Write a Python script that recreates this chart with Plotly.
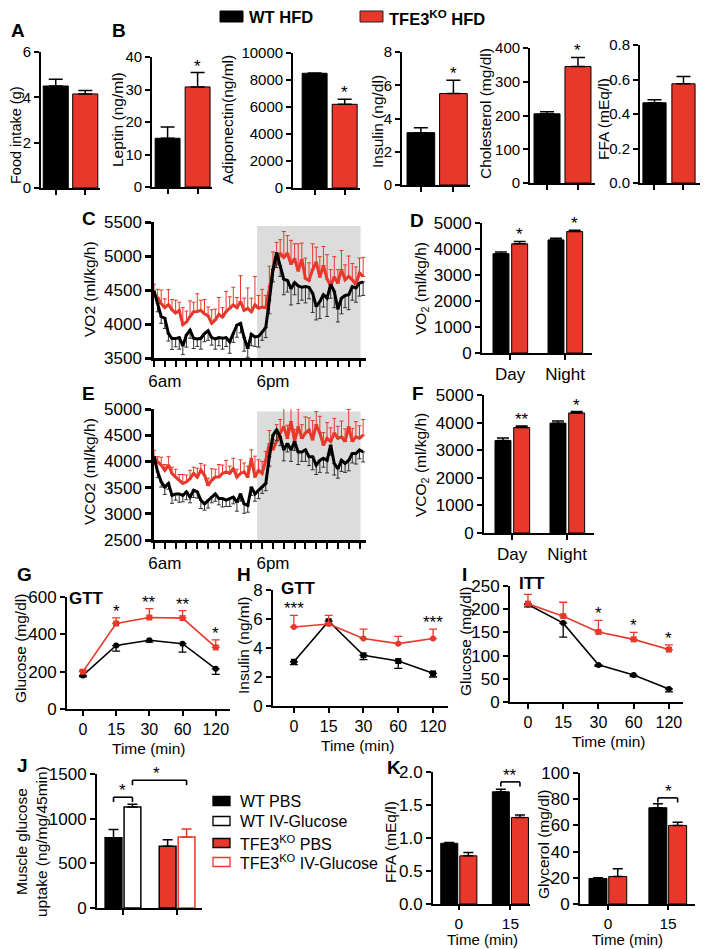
import plotly.graph_objects as go

# the page body keeps an 8px margin: figure is shifted by (8, 8) in the window
OX, OY = 8, 8
W, H = 701, 941
BLACK = "#000000"
RED = "#E8382B"
GREY = "#DCDCDC"
FONT = "Liberation Sans, Arial, Helvetica, sans-serif"

# ---------------- data ----------------
genotypes = ["WT HFD", "TFE3<sup>KO</sup> HFD"]
food_intake = [4.5, 4.15]
food_intake_err = [0.3, 0.15]
leptin = [15.0, 30.8]
leptin_err = [3.5, 4.4]
adiponectin = [8500, 6200]
adiponectin_err = [20, 380]
insulin_fed = [3.15, 5.5]
insulin_fed_err = [0.3, 0.8]
cholesterol = [205, 345]
cholesterol_err = [6, 27]
ffa_fed = [0.465, 0.575]
ffa_fed_err = [0.018, 0.042]

periods = ["Day", "Night"]
vo2_wt_bar = [3820, 4350]
vo2_wt_bar_err = [60, 60]
vo2_ko_bar = [4200, 4670]
vo2_ko_bar_err = [90, 50]
vco2_wt_bar = [3350, 3980]
vco2_wt_bar_err = [90, 80]
vco2_ko_bar = [3820, 4350]
vco2_ko_bar_err = [60, 50]

# indirect calorimetry time course (time bins)
vo2_wt = [4485, 4300, 4110, 4085, 3860, 3785, 3785, 3800, 3680, 3840,
          3910, 3790, 3780, 3790, 3860, 3900, 3800, 3780, 3800, 3790,
          3800, 3740, 3850, 3985, 4010, 3800, 3640, 3850, 3810, 3820,
          3880, 3950, 4350, 4800, 5050, 4860, 4660, 4640, 4520, 4610,
          4560, 4540, 4550, 4540, 4450, 4260, 4330, 4430, 4380, 4580,
          4480, 4220, 4380, 4420, 4430, 4550, 4530, 4600, 4620]
vo2_wt_err = [80, 120, 100, 150, 110, 160, 120, 170, 130, 180,
              120, 150, 110, 160, 120, 140, 110, 150, 120, 160,
              130, 170, 120, 180, 140, 200, 130, 170, 140, 160,
              120, 150, 200, 180, 220, 160, 230, 170, 240, 180,
              260, 190, 240, 170, 280, 200, 250, 180, 270, 200,
              240, 190, 230, 180, 220, 200, 210, 190, 200]
vo2_ko = [4435, 4390, 4300, 4240, 4285, 4210, 4160, 4200, 3990, 4030,
          4110, 4180, 4185, 4200, 4150, 4120, 4010, 4060, 4140, 4100,
          4180, 4230, 4280, 4240, 4330, 4200, 4230, 4180, 4280, 4230,
          4250, 4240, 4550, 4810, 4880, 5040, 4980, 5040, 4880, 4960,
          4780, 4950, 4670, 4640, 4800, 4910, 4690, 4860, 4660, 4560,
          4690, 4600, 4800, 4650, 4700, 4650, 4580, 4750, 4700]
vo2_ko_err = [150, 120, 200, 130, 220, 150, 190, 120, 250, 160,
              230, 140, 260, 150, 210, 130, 200, 160, 250, 140,
              300, 170, 260, 150, 380, 180, 300, 200, 420, 190,
              260, 180, 300, 250, 320, 200, 380, 260, 350, 220,
              400, 240, 300, 260, 380, 220, 300, 280, 360, 240,
              300, 200, 280, 220, 300, 240, 260, 220, 280]
vco2_wt = [4090, 3800, 3610, 3510, 3580, 3350, 3380, 3380, 3350, 3420,
           3320, 3450, 3420, 3260, 3190, 3260, 3320, 3380, 3290, 3290,
           3260, 3290, 3320, 3220, 3380, 3190, 3160, 3510, 3380, 3450,
           3510, 3580, 4090, 4500, 4600, 4470, 4220, 4340, 4220, 4380,
           4180, 4180, 4220, 4090, 4090, 3930, 4020, 4060, 4020, 4310,
           3960, 3860, 4020, 3960, 4020, 4150, 4150, 4220, 4180]
vco2_wt_err = [80, 110, 100, 140, 110, 150, 120, 160, 120, 150,
               110, 140, 120, 160, 120, 150, 110, 140, 120, 160,
               120, 150, 130, 170, 140, 180, 130, 160, 140, 160,
               120, 140, 180, 160, 200, 170, 210, 160, 220, 170,
               240, 180, 220, 170, 250, 180, 230, 170, 240, 190,
               220, 180, 210, 170, 200, 180, 200, 170, 190]
vco2_ko = [4090, 3990, 3930, 3830, 3930, 3770, 3700, 3640, 3580, 3610,
           3670, 3770, 3700, 3830, 3740, 3540, 3640, 3700, 3700, 3770,
           3800, 3770, 3860, 3700, 3770, 3800, 3700, 4060, 3700, 3830,
           3770, 4020, 4340, 4220, 4380, 4540, 4660, 4440, 4760, 4380,
           4660, 4440, 4540, 4600, 4410, 4700, 4540, 4310, 4440, 4380,
           4540, 4440, 4470, 4380, 4660, 4380, 4470, 4440, 4500]
vco2_ko_err = [120, 100, 150, 110, 160, 120, 150, 110, 170, 130,
               160, 120, 170, 130, 190, 140, 220, 150, 240, 160,
               220, 140, 200, 150, 260, 170, 210, 160, 400, 200,
               230, 170, 250, 200, 320, 260, 420, 250, 300, 230,
               340, 260, 310, 230, 370, 250, 320, 240, 300, 260,
               280, 230, 300, 240, 330, 250, 290, 240, 300]
ts_bins = list(range(len(vo2_wt)))
ts_minor_bins = [0, 3, 6, 9, 12, 15, 18, 21, 24, 27, 30, 33, 36, 39, 42, 45, 48, 51, 54, 57]
ts_label_bins = [3, 33]
ts_tick_labels = ["6am", "6pm"]
dark_start_bin = 28.6
dark_end_bin = 57.3

times = ["0", "15", "30", "60", "120"]
gtt_wt = [180, 340, 368, 350, 215]
gtt_wt_err = [8, 30, 10, 45, 30]
gtt_ko = [200, 458, 490, 487, 330]
gtt_ko_err = [8, 30, 48, 40, 40]
gtt_ins_wt = [3.05, 5.85, 3.5, 3.1, 2.25]
gtt_ins_wt_err = [0.2, 0.2, 0.3, 0.5, 0.25]
gtt_ins_ko = [5.45, 5.65, 4.65, 4.3, 4.65]
gtt_ins_ko_err = [0.8, 0.6, 0.65, 0.5, 0.65]
itt_wt = [210, 170, 80, 58, 28]
itt_wt_err = [5, 30, 3, 3, 6]
itt_ko = [212, 185, 151, 135, 113]
itt_ko_err = [20, 30, 25, 15, 10]

uptake_groups = ["WT", "TFE3KO"]
uptake_pbs = [785, 690]
uptake_pbs_err = [95, 75]
uptake_iv = [1130, 795]
uptake_iv_err = [30, 90]

lipo_times = ["0", "15"]
ffa_wt = [0.92, 1.70]
ffa_wt_err = [0.01, 0.04]
ffa_ko = [0.73, 1.31]
ffa_ko_err = [0.05, 0.04]
glycerol_wt = [19.5, 73.5]
glycerol_wt_err = [0.5, 3.0]
glycerol_ko = [21.0, 60.0]
glycerol_ko_err = [6.0, 2.5]

# ---------------- helpers ----------------
layout = dict(width=W, height=H, margin=dict(l=0, r=0, t=0, b=0, pad=0), autosize=False,
              paper_bgcolor="white", plot_bgcolor="rgba(0,0,0,0)",
              showlegend=False, font=dict(family=FONT, size=15, color=BLACK))
annotations, shapes, traces = [], [], []
n_axes = [0]

AX = dict(showline=True, linecolor=BLACK, linewidth=1.8, ticks="outside", ticklen=5,
          tickwidth=1.8, tickcolor=BLACK, showgrid=False, zeroline=False, automargin=False,
          tickfont=dict(size=17, family=FONT, color=BLACK), fixedrange=True)


def fx(px):
    return (px - OX) / W


def fy(py):
    return 1 - (py - OY) / H


def panel(xl, xr, yt, yb, xrange, yrange, xopts=None, yopts=None):
    n_axes[0] += 1
    k = n_axes[0]
    s = "" if k == 1 else str(k)
    xa = dict(AX)
    xa.update(domain=[fx(xl), fx(xr)], range=xrange, anchor="y" + s)
    ya = dict(AX)
    ya.update(domain=[fy(yb), fy(yt)], range=yrange, anchor="x" + s)
    if xopts:
        xa.update(xopts)
    if yopts:
        ya.update(yopts)
    layout["xaxis" + s] = xa
    layout["yaxis" + s] = ya
    return "x" + s, "y" + s


def ptext(px, py, text, size=15.5, bold=False, angle=0, xanchor="center", yanchor="middle"):
    annotations.append(dict(xref="paper", yref="paper", x=fx(px), y=fy(py),
                            text="<b>%s</b>" % text if bold else text, showarrow=False,
                            textangle=angle, xanchor=xanchor, yanchor=yanchor,
                            font=dict(size=size, family=FONT, color=BLACK)))


def prect(x0, x1, y0, y1, fill, edge, lw=1.0):
    shapes.append(dict(type="rect", xref="paper", yref="paper", x0=fx(x0), x1=fx(x1),
                       y0=fy(y1), y1=fy(y0), fillcolor=fill, line=dict(color=edge, width=lw)))


def star(xa, ya, x, y, text, shift=-5):
    annotations.append(dict(xref=xa, yref=ya, x=x, y=y, text=text, showarrow=False,
                            xanchor="center", yanchor="bottom", yshift=shift,
                            font=dict(size=17, family=FONT, color=BLACK)))


def bracket(xa, ya, x0, x1, y, drop):
    for (a, b, c, d) in [(x0, y - drop, x0, y), (x0, y, x1, y), (x1, y, x1, y - drop)]:
        shapes.append(dict(type="line", xref=xa, yref=ya, x0=a, y0=b, x1=c, y1=d,
                           line=dict(color=BLACK, width=1.6)))


def up_err(arr, color=BLACK, w=7, th=1.5):
    return dict(type="data", visible=True, symmetric=False, array=arr, color=color, thickness=th, width=w)


def down_err(arr, color=BLACK, w=4, th=1.3):
    return dict(type="data", visible=True, symmetric=False, arrayminus=arr, color=color, thickness=th, width=w)


CAT_NOLAB = dict(type="category", showticklabels=False)
SMALL_TICKS = dict(size=15, family=FONT, color=BLACK)


def two_bar(xa, ya, vals, errs, width):
    traces.append(go.Bar(x=genotypes, y=vals, width=width,
                         marker=dict(color=[BLACK, RED], line=dict(color=BLACK, width=1)),
                         error_y=up_err(errs), xaxis=xa, yaxis=ya, hoverinfo="skip"))


# ---------------- row 1: A, B ----------------
xa, ya = panel(41, 100, 52, 188, [-0.5, 1.5], [0, 6], CAT_NOLAB,
               dict(tickvals=[0, 2, 4, 6], tickfont=SMALL_TICKS))
two_bar(xa, ya, food_intake, food_intake_err, 0.85)
ptext(16, 135, "Food intake (g)", size=14.5, angle=-90)

xa, ya = panel(152, 212, 57, 187, [-0.52, 1.48], [0, 40], CAT_NOLAB,
               dict(tickvals=[0, 10, 20, 30, 40], tickfont=SMALL_TICKS))
two_bar(xa, ya, leptin, leptin_err, 0.83)
star(xa, ya, genotypes[1], leptin[1] + leptin_err[1], "*")
ptext(118, 119, "Leptin (ng/ml)", angle=-90)

xa, ya = panel(293, 360, 53, 188, [-0.72, 1.51], [0, 10000], CAT_NOLAB,
               dict(tickvals=[0, 2000, 4000, 6000, 8000, 10000],
                    ticktext=["0", "2000", "4000", "6000", "8000", "10000"], tickfont=SMALL_TICKS))
two_bar(xa, ya, adiponectin, adiponectin_err, 0.83)
star(xa, ya, genotypes[1], adiponectin[1] + adiponectin_err[1], "*")
ptext(227, 120, "Adiponectin(ng/ml)", angle=-90)

xa, ya = panel(402, 470, 52, 185, [-0.58, 1.51], [0, 8], CAT_NOLAB,
               dict(tickvals=[0, 2, 4, 6, 8], tickfont=SMALL_TICKS))
two_bar(xa, ya, insulin_fed, insulin_fed_err, 0.85)
star(xa, ya, genotypes[1], insulin_fed[1] + insulin_fed_err[1], "*")
ptext(377, 122, "Insulin (ng/dl)", angle=-90)

xa, ya = panel(530, 595, 48, 183, [-0.55, 1.55], [0, 400], CAT_NOLAB,
               dict(tickvals=[0, 100, 200, 300, 400], tickfont=SMALL_TICKS))
two_bar(xa, ya, cholesterol, cholesterol_err, 0.84)
star(xa, ya, genotypes[1], cholesterol[1] + cholesterol_err[1], "*")
ptext(485, 114, "Cholesterol (mg/dl)", angle=-90)

xa, ya = panel(640, 700, 45, 183, [-0.5, 1.57], [0, 0.8], CAT_NOLAB,
               dict(tickvals=[0, 0.2, 0.4, 0.6, 0.8], ticktext=["0.0", "0.2", "0.4", "0.6", "0.8"],
                    tickfont=SMALL_TICKS))
two_bar(xa, ya, ffa_fed, ffa_fed_err, 0.8)
ptext(604, 119, "FFA (mEq/l)", angle=-90)

ptext(9, 31, "A", size=19, bold=True, xanchor="left")
ptext(110, 31, "B", size=19, bold=True, xanchor="left")

# top legend
prect(220, 243, 11, 22, BLACK, BLACK)
ptext(247, 17, "WT HFD", size=16.5, bold=True, xanchor="left")
prect(360, 383, 11, 22, RED, "#222222")
ptext(387, 18, "TFE3<sup>KO</sup> HFD", size=16.5, bold=True, xanchor="left")


# ---------------- C / E time courses ----------------
def time_course(yt, yb, yrange, ytv, wt, wt_err, ko, ko_err, shade_top):
    xa, ya = panel(154, 366, yt, yb, [0, 58.8], yrange,
                   dict(tickvals=ts_label_bins, ticktext=ts_tick_labels, linewidth=2.5, tickwidth=2, ticklen=6,
                        minor=dict(tickvals=ts_minor_bins, ticks="outside", ticklen=6, tickwidth=2,
                                   tickcolor=BLACK, showgrid=False)),
                   dict(tickvals=ytv, linewidth=2.5, tickwidth=2.5, ticklen=6))
    shapes.append(dict(type="rect", xref=xa, yref=ya, x0=dark_start_bin, x1=dark_end_bin,
                       y0=yrange[0], y1=shade_top, fillcolor=GREY, line=dict(width=0), layer="below"))
    traces.append(go.Scatter(x=ts_bins, y=ko, mode="lines", line=dict(color=RED, width=3),
                             error_y=up_err(ko_err, color=RED, w=2, th=1), xaxis=xa, yaxis=ya, hoverinfo="skip"))
    traces.append(go.Scatter(x=ts_bins, y=wt, mode="lines", line=dict(color=BLACK, width=3),
                             error_y=down_err(wt_err, color="#333333", w=2, th=1), xaxis=xa, yaxis=ya, hoverinfo="skip"))


time_course(222, 358, [3500, 5500], [3500, 4000, 4500, 5000, 5500], vo2_wt, vo2_wt_err, vo2_ko, vo2_ko_err, 5440)
ptext(89, 289, "VO2 (ml/kg/h)", angle=-90)
ptext(80, 218, "C", size=19, bold=True, xanchor="left")

time_course(409, 540, [2500, 5000], [2500, 3000, 3500, 4000, 4500, 5000], vco2_wt, vco2_wt_err, vco2_ko, vco2_ko_err, 4950)
ptext(89, 472, "VCO2 (ml/kg/h)", angle=-90)
ptext(80, 393, "E", size=19, bold=True, xanchor="left")


# ---------------- D / F day-night bars ----------------
def day_night(xl, xr, yt, yb, wt, wt_err, ko, ko_err):
    xa, ya = panel(xl, xr, yt, yb, [-0.51, 1.49], [0, 5000], dict(type="category"),
                   dict(tickvals=[0, 1000, 2000, 3000, 4000, 5000]))
    traces.append(go.Bar(x=periods, y=wt, width=0.29, offset=-0.31,
                         marker=dict(color=BLACK, line=dict(color=BLACK, width=1)),
                         error_y=up_err(wt_err, w=6), xaxis=xa, yaxis=ya, hoverinfo="skip"))
    traces.append(go.Bar(x=periods, y=ko, width=0.29, offset=0.03,
                         marker=dict(color=RED, line=dict(color=BLACK, width=1)),
                         error_y=up_err(ko_err, w=6), xaxis=xa, yaxis=ya, hoverinfo="skip"))
    return xa, ya


xa, ya = day_night(482, 592, 223, 353, vo2_wt_bar, vo2_wt_bar_err, vo2_ko_bar, vo2_ko_bar_err)
star(xa, ya, 0.175, vo2_ko_bar[0] + vo2_ko_bar_err[0], "*")
star(xa, ya, 1.175, vo2_ko_bar[1] + vo2_ko_bar_err[1], "*")
ptext(421, 289, "VO<sub>2</sub> (ml/kg/h)", angle=-90)
ptext(408, 220, "D", size=19, bold=True, xanchor="left")

xa, ya = day_night(484, 594, 395, 533, vco2_wt_bar, vco2_wt_bar_err, vco2_ko_bar, vco2_ko_bar_err)
star(xa, ya, 0.175, vco2_ko_bar[0] + vco2_ko_bar_err[0], "**")
star(xa, ya, 1.175, vco2_ko_bar[1] + vco2_ko_bar_err[1], "*")
ptext(421, 465, "VCO<sub>2</sub> (ml/kg/h)", angle=-90)
ptext(410, 394, "F", size=19, bold=True, xanchor="left")


# ---------------- G / H / I tolerance tests ----------------
TX = dict(type="category", tickfont=dict(size=16, family=FONT, color=BLACK))


def tol_panel(xl, xr, yt, yb, xrange, yrange, ytv, wt, wt_err, ko, ko_err, wt_sym, ko_sym):
    xa, ya = panel(xl, xr, yt, yb, xrange, yrange, TX, dict(tickvals=ytv))
    traces.append(go.Scatter(x=times, y=wt, mode="lines+markers", line=dict(color=BLACK, width=1.6),
                             marker=dict(symbol=wt_sym, size=6, color=BLACK),
                             error_y=down_err(wt_err), xaxis=xa, yaxis=ya, hoverinfo="skip"))
    traces.append(go.Scatter(x=times, y=ko, mode="lines+markers", line=dict(color=RED, width=1.6),
                             marker=dict(symbol=ko_sym, size=6, color=RED),
                             error_y=up_err(ko_err, color=RED, w=4, th=1.3), xaxis=xa, yaxis=ya, hoverinfo="skip"))
    return xa, ya


xa, ya = tol_panel(67, 230, 597, 709, [-0.48, 4.43], [0, 600], [0, 200, 400, 600],
                   gtt_wt, gtt_wt_err, gtt_ko, gtt_ko_err, "circle", "square")
for i, s in [(1, "*"), (2, "**"), (3, "**"), (4, "*")]:
    star(xa, ya, i, gtt_ko[i] + gtt_ko_err[i], s)
ptext(20, 649, "Glucose (mg/dl)", angle=-90)
ptext(148, 748, "Time (min)", size=15.5)
ptext(86, 598, "GTT", size=17, bold=True)
ptext(15, 574, "G", size=19, bold=True, xanchor="left")

xa, ya = tol_panel(273, 448, 590, 706, [-0.6, 4.43], [0, 8], [0, 2, 4, 6, 8],
                   gtt_ins_wt, gtt_ins_wt_err, gtt_ins_ko, gtt_ins_ko_err, "square", "circle")
for i, s in [(0, "***"), (4, "***")]:
    star(xa, ya, i, gtt_ins_ko[i] + gtt_ins_ko_err[i], s)
ptext(243, 646, "Insulin (ng/ml)", angle=-90)
ptext(357, 745, "Time (min)", size=15.5)
ptext(298, 588, "GTT", size=17, bold=True)
ptext(235, 574, "H", size=19, bold=True, xanchor="left")

xa, ya = tol_panel(510, 683, 586, 702, [-0.51, 4.4], [0, 250], [0, 50, 100, 150, 200, 250],
                   itt_wt, itt_wt_err, itt_ko, itt_ko_err, "circle", "square")
for i in [2, 3, 4]:
    star(xa, ya, i, itt_ko[i] + itt_ko_err[i], "*")
ptext(465, 642, "Glucose (mg/dl)", angle=-90)
ptext(608, 741, "Time (min)", size=15.5)
ptext(532, 583, "ITT", size=17, bold=True)
ptext(460, 574, "I", size=19, bold=True, xanchor="left")

# ---------------- J muscle glucose uptake ----------------
xa, ya = panel(97, 202, 774, 908, [-0.48, 1.46], [0, 1500], CAT_NOLAB, dict(tickvals=[0, 500, 1000, 1500]))
j_specs = [
    (0, uptake_pbs, uptake_pbs_err, -0.33, BLACK, BLACK, BLACK),
    (0, uptake_iv, uptake_iv_err, 0.02, "white", BLACK, BLACK),
    (1, uptake_pbs, uptake_pbs_err, -0.33, RED, BLACK, BLACK),
    (1, uptake_iv, uptake_iv_err, 0.02, "white", RED, RED),
]
for gi, vals, errs, off, fill, edge, ecol in j_specs:
    traces.append(go.Bar(x=[uptake_groups[gi]], y=[vals[gi]], width=0.31, offset=off,
                         marker=dict(color=fill, line=dict(color=edge, width=1.5)),
                         error_y=up_err([errs[gi]], color=ecol, w=5), xaxis=xa, yaxis=ya, hoverinfo="skip"))
bracket(xa, ya, -0.175, 0.175, 1240, 55)
star(xa, ya, 0.0, 1240, "*")
bracket(xa, ya, 0.175, 1.175, 1430, 55)
star(xa, ya, 0.62, 1430, "*")
ptext(31, 842, "Muscle glucose<br>uptake (ng/mg/45min)", size=15.5, angle=-90)
ptext(15, 765, "J", size=19, bold=True, xanchor="left")

# J legend
legend_rows = [(801, BLACK, BLACK, "WT PBS"), (821, "white", BLACK, "WT IV-Glucose"),
               (843, RED, BLACK, "TFE3<sup>KO</sup> PBS"), (862, "white", RED, "TFE3<sup>KO</sup> IV-Glucose")]
for cy, fill, edge, label in legend_rows:
    prect(213, 230, cy - 4.5, cy + 4.5, fill, edge, 1.3)
    ptext(238, cy, label, size=16, xanchor="left")

# ---------------- K lipolysis ----------------
KX = dict(type="category", ticklen=4, tickfont=dict(size=15.5, family=FONT, color=BLACK))
xa, ya = panel(433, 530, 772, 904, [-0.5, 1.38], [0, 2.0], KX,
               dict(tickvals=[0, 0.5, 1.0, 1.5, 2.0], ticktext=["0.0", "0.5", "1.0", "1.5", "2.0"]))
traces.append(go.Bar(x=lipo_times, y=ffa_wt, width=0.33, offset=-0.35,
                     marker=dict(color=BLACK, line=dict(color=BLACK, width=1)),
                     error_y=up_err(ffa_wt_err, w=5), xaxis=xa, yaxis=ya, hoverinfo="skip"))
traces.append(go.Bar(x=lipo_times, y=ffa_ko, width=0.33, offset=0.02,
                     marker=dict(color=RED, line=dict(color=BLACK, width=1)),
                     error_y=up_err(ffa_ko_err, w=5), xaxis=xa, yaxis=ya, hoverinfo="skip"))
bracket(xa, ya, 0.815, 1.185, 1.85, 0.07)
star(xa, ya, 1.0, 1.85, "**")
ptext(390, 842, "FFA (mEq/l)", angle=-90)
ptext(482, 939.5, "Time (min)", size=15)
ptext(385, 767, "K", size=19, bold=True, xanchor="left")

xa, ya = panel(580, 695, 773, 904, [-0.47, 1.45], [0, 100], KX,
               dict(tickvals=[0, 20, 40, 60, 80, 100]))
traces.append(go.Bar(x=lipo_times, y=glycerol_wt, width=0.3, offset=-0.32,
                     marker=dict(color=BLACK, line=dict(color=BLACK, width=1)),
                     error_y=up_err(glycerol_wt_err, w=5), xaxis=xa, yaxis=ya, hoverinfo="skip"))
traces.append(go.Bar(x=lipo_times, y=glycerol_ko, width=0.3, offset=0.01,
                     marker=dict(color=RED, line=dict(color=BLACK, width=1)),
                     error_y=up_err(glycerol_ko_err, w=5), xaxis=xa, yaxis=ya, hoverinfo="skip"))
bracket(xa, ya, 0.83, 1.16, 81, 3.5)
star(xa, ya, 1.0, 81, "*")
ptext(543, 845, "Glycerol (mg/dl)", angle=-90)
ptext(627, 939.5, "Time (min)", size=15)

layout["annotations"] = annotations
layout["shapes"] = shapes
fig = go.Figure(data=traces, layout=layout)
fig.write_html("out.html")
